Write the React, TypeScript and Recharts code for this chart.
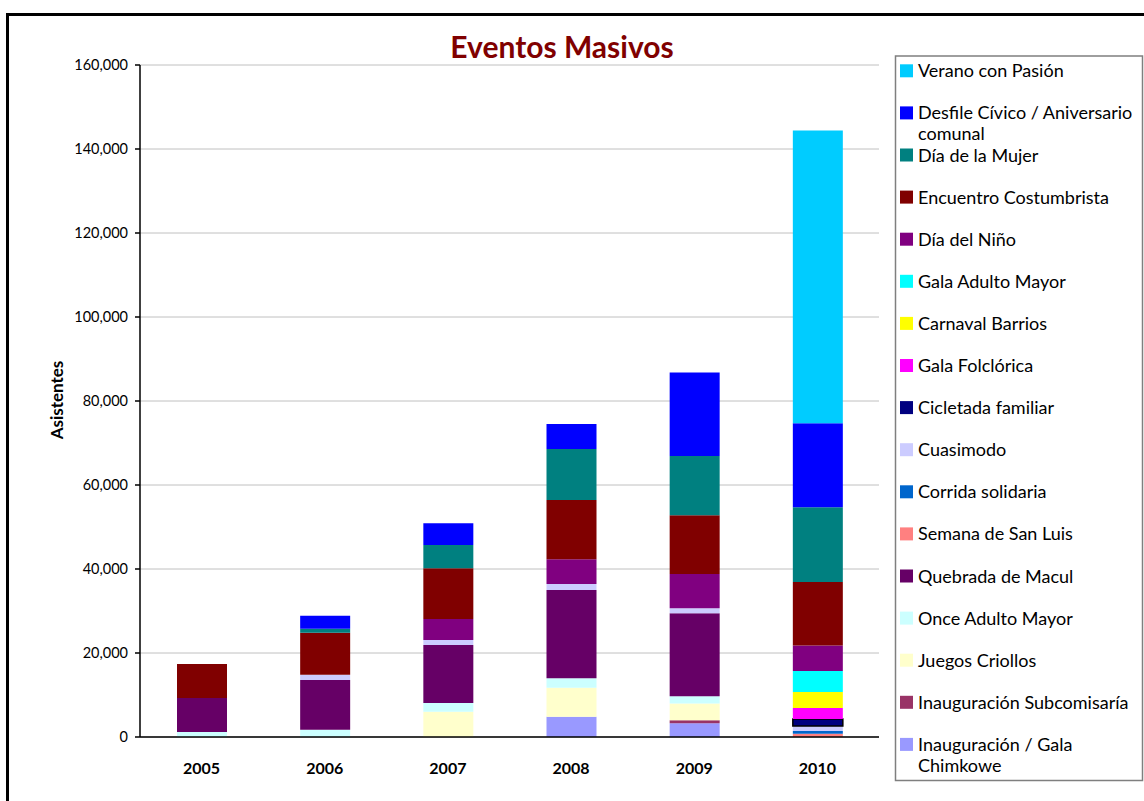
import React from 'react';
import { BarChart, Bar, XAxis, YAxis, CartesianGrid } from 'recharts';

const years = ['2005', '2006', '2007', '2008', '2009', '2010'];

// Series listed bottom-of-stack first
const galaChimkowe = [0, 0, 0, 4800, 3300, 0];
const subcomisaria = [0, 0, 0, 0, 700, 0];
const juegosCriollos = [0, 0, 6000, 6900, 4000, 0];
const onceAdultoMayor = [1200, 1700, 2100, 2300, 1700, 0];
const quebradaMacul = [8100, 11900, 13800, 21000, 19750, 0];
const semanaSanLuis = [0, 0, 0, 0, 0, 800];
const corridaSolidaria = [0, 0, 0, 0, 0, 600];
const cuasimodo = [0, 1200, 1200, 1400, 1200, 1200];
const cicletada = [0, 0, 0, 0, 0, 1700];
const galaFolclorica = [0, 0, 0, 0, 0, 2600];
const carnavalBarrios = [0, 0, 0, 0, 0, 3800];
const galaAdultoMayor = [0, 0, 0, 0, 0, 5000];
const diaNino = [0, 0, 5000, 5950, 8150, 6100];
const encuentroCostumbrista = [8100, 10000, 12100, 14100, 14000, 15100];
const diaMujer = [0, 950, 5500, 12100, 14100, 17800];
const desfileCivico = [0, 3100, 5200, 5950, 19900, 20000];
const veranoPasion = [0, 0, 0, 0, 0, 69700];

const yTicks = [0, 20000, 40000, 60000, 80000, 100000, 120000, 140000, 160000];

type Series = { key: string; label: string[]; color: string; values: number[]; stroke?: string };

const series: Series[] = [
  { key: 'galaChimkowe', label: ['Inauguración / Gala', 'Chimkowe'], color: '#9999FF', values: galaChimkowe },
  { key: 'subcomisaria', label: ['Inauguración Subcomisaría'], color: '#993366', values: subcomisaria },
  { key: 'juegosCriollos', label: ['Juegos Criollos'], color: '#FFFFCC', values: juegosCriollos },
  { key: 'onceAdultoMayor', label: ['Once Adulto Mayor'], color: '#CCFFFF', values: onceAdultoMayor },
  { key: 'quebradaMacul', label: ['Quebrada de Macul'], color: '#660066', values: quebradaMacul },
  { key: 'semanaSanLuis', label: ['Semana de San Luis'], color: '#FF8080', values: semanaSanLuis },
  { key: 'corridaSolidaria', label: ['Corrida solidaria'], color: '#0066CC', values: corridaSolidaria },
  { key: 'cuasimodo', label: ['Cuasimodo'], color: '#CCCCFF', values: cuasimodo },
  { key: 'cicletada', label: ['Cicletada familiar'], color: '#000080', values: cicletada, stroke: '#000000' },
  { key: 'galaFolclorica', label: ['Gala Folclórica'], color: '#FF00FF', values: galaFolclorica },
  { key: 'carnavalBarrios', label: ['Carnaval Barrios'], color: '#FFFF00', values: carnavalBarrios },
  { key: 'galaAdultoMayor', label: ['Gala Adulto Mayor'], color: '#00FFFF', values: galaAdultoMayor },
  { key: 'diaNino', label: ['Día del Niño'], color: '#800080', values: diaNino },
  { key: 'encuentroCostumbrista', label: ['Encuentro Costumbrista'], color: '#800000', values: encuentroCostumbrista },
  { key: 'diaMujer', label: ['Día de la Mujer'], color: '#008080', values: diaMujer },
  { key: 'desfileCivico', label: ['Desfile Cívico / Aniversario', 'comunal'], color: '#0000FF', values: desfileCivico },
  { key: 'veranoPasion', label: ['Verano con Pasión'], color: '#00CCFF', values: veranoPasion },
];

const data = years.map((year, i) => {
  const row: Record<string, number | string> = { year };
  series.forEach((s) => {
    row[s.key] = s.values[i];
  });
  return row;
});

const edgeTicks = years.map((_, i) => i).concat([years.length]);

const FONT = 'Lato, "Open Sans", "DejaVu Sans", sans-serif';

export default function App() {
  const legendItems = [...series].reverse();
  return (
    <div
      style={{
        position: 'absolute',
        left: 0,
        top: 0,
        width: 1144,
        height: 801,
        overflow: 'hidden',
        background: '#fff',
        fontFamily: FONT,
      }}
    >
      <div
        style={{
          position: 'absolute',
          left: 6,
          top: 13,
          width: 1300,
          height: 1000,
          border: '3px solid #000',
          boxSizing: 'border-box',
        }}
      />
      <div style={{ position: 'absolute', left: 0, top: 0 }}>
        <BarChart
          width={1144}
          height={801}
          data={data}
          margin={{ top: 65, right: 265, bottom: 34, left: 80 }}
        >
          <CartesianGrid vertical={false} stroke="#c0c0c0" strokeWidth={1} />
          <XAxis
            xAxisId={0}
            type="number"
            domain={[0, years.length]}
            ticks={edgeTicks}
            allowDataOverflow
            axisLine={false}
            tickLine={{ stroke: '#000', strokeWidth: 1.5 }}
            tickSize={5}
            tick={() => <g />}
            height={0}
          />
          <XAxis
            xAxisId={1}
            dataKey="year"
            axisLine={{ stroke: '#000', strokeWidth: 1.5 }}
            tickLine={false}
            tickMargin={20}
            tick={{ fill: '#000', fontSize: 16, fontWeight: 700 }}
            height={30}
          />
          <YAxis
            domain={[0, 160000]}
            ticks={yTicks}
            width={60}
            tickSize={5}
            tickMargin={7}
            axisLine={{ stroke: '#000', strokeWidth: 1.5 }}
            tickLine={{ stroke: '#000', strokeWidth: 1.5 }}
            tick={{ fill: '#000', fontSize: 14.5 }}
            tickFormatter={(v: number) => v.toLocaleString('en-US')}
          />
          {series.map((s) => (
            <Bar
              key={s.key}
              dataKey={s.key}
              xAxisId={1}
              stackId="a"
              fill={s.color}
              stroke={s.stroke}
              strokeWidth={s.stroke ? 1.5 : 0}
              barSize={50}
              isAnimationActive={false}
            />
          ))}
        </BarChart>
      </div>
      <svg
        width={1144}
        height={801}
        style={{ position: 'absolute', left: 0, top: 0, pointerEvents: 'none', fontFamily: FONT }}
      >
        <text x={562} y={57.5} textAnchor="middle" fill="#800000" fontSize={30} fontWeight={700}>
          Eventos Masivos
        </text>
        <text
          x={0}
          y={0}
          transform="translate(62.5 400) rotate(-90)"
          textAnchor="middle"
          fill="#000"
          fontSize={17}
          fontWeight={700}
        >
          Asistentes
        </text>
        <rect x={895.5} y={56} width={247} height={724.5} fill="#fff" stroke="#7f7f7f" strokeWidth={1.5} />
        {legendItems.map((s, i) => {
          const base = 77.3 + 42.1 * i;
          return (
            <g key={s.key}>
              <rect x={900} y={base - 13} width={13} height={13} fill={s.color} />
              {s.label.map((line, j) => (
                <text key={j} x={918} y={base + j * 21} fontSize={18} fill="#000">
                  {line}
                </text>
              ))}
            </g>
          );
        })}
      </svg>
    </div>
  );
}
